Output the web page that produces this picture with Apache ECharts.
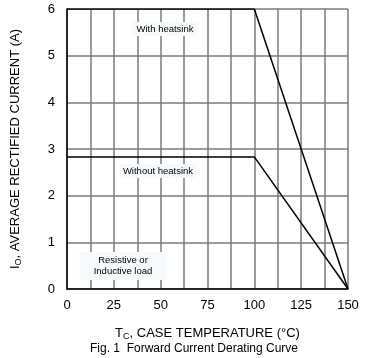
<!DOCTYPE html>
<html><head><meta charset="utf-8">
<script src="https://cdn.jsdelivr.net/npm/echarts@6/dist/echarts.min.js"></script>
<style>html,body{margin:0;padding:0;background:#fff}#c{width:388px;height:358px}</style>
</head><body><div id="c"></div>
<script>
const withHeatsinkX = [0, 100, 150];
const withHeatsinkY = [6, 6, 0];
const withoutHeatsinkX = [0, 100, 150];
const withoutHeatsinkY = [2.83, 2.83, 0];
const xTicks = [0, 25, 50, 75, 100, 125, 150];
const yTicks = [0, 1, 2, 3, 4, 5, 6];

const chart = echarts.init(document.getElementById('c'));
const font = 'Liberation Sans, Arial, sans-serif';
chart.setOption({
  animation: false,
  grid: {left: 67, right: 40, top: 9, bottom: 69},
  xAxis: {
    type: 'value', min: 0, max: 150, interval: 12.5,
    axisLine: {show: true, lineStyle: {color: '#000', width: 1.5}},
    axisTick: {show: false},
    axisLabel: {margin: 10, color: '#000', fontSize: 13, fontFamily: font,
      formatter: v => xTicks.includes(v) ? String(v) : ''},
    splitLine: {show: true, lineStyle: {color: '#7a7a7a', width: 1.5}},
    name: '{b|T}{s|C}{b|, CASE TEMPERATURE (°C)}',
    nameLocation: 'middle', nameGap: 37,
    nameTextStyle: {rich: {
      b: {fontSize: 13, fontFamily: font, color: '#000'},
      s: {fontSize: 9, fontFamily: font, color: '#000', padding: [6, 0, 0, 0]}
    }}
  },
  yAxis: {
    type: 'value', min: 0, max: 6, interval: 1,
    axisLine: {show: true, lineStyle: {color: '#000', width: 1.5}},
    axisTick: {show: false},
    axisLabel: {margin: 12, color: '#000', fontSize: 13, fontFamily: font,
      formatter: v => yTicks.includes(v) ? String(v) : ''},
    splitLine: {show: true, lineStyle: {color: '#7a7a7a', width: 1.5}},
    name: '{b|I}{s|O}{b|, AVERAGE RECTIFIED CURRENT (A)}',
    nameLocation: 'middle', nameGap: 44,
    nameTextStyle: {rich: {
      b: {fontSize: 13, fontFamily: font, color: '#000'},
      s: {fontSize: 9, fontFamily: font, color: '#000', padding: [6, 0, 0, 0]}
    }}
  },
  title: {
    text: 'Fig. 1  Forward Current Derating Curve',
    left: 'center', top: 338,
    textStyle: {fontSize: 12, fontWeight: 'normal', color: '#000', fontFamily: font}
  },
  series: [
    {type: 'line', data: withHeatsinkX.map((x, i) => [x, withHeatsinkY[i]]),
     symbol: 'none', lineStyle: {color: '#000', width: 1.5}, z: 5},
    {type: 'line', data: withoutHeatsinkX.map((x, i) => [x, withoutHeatsinkY[i]]),
     symbol: 'none', lineStyle: {color: '#000', width: 1.5}, z: 5}
  ],
  graphic: [
    {type: 'text', x: 165, y: 22, z: 10,
     style: {text: 'With heatsink', font: '9.5px ' + font, fill: '#000', align: 'center',
       backgroundColor: '#f6fafd', padding: [2, 4]}},
    {type: 'text', x: 158, y: 164, z: 10,
     style: {text: 'Without heatsink', font: '9.5px ' + font, fill: '#000', align: 'center',
       backgroundColor: '#f6fafd', padding: [2, 4]}},
    {type: 'text', x: 123, y: 252, z: 10,
     style: {text: 'Resistive or\nInductive load', font: '9.5px ' + font, fill: '#000',
       align: 'center', lineHeight: 11,
       backgroundColor: '#f6fafd', padding: [3, 14]}}
  ]
});
</script></body></html>
